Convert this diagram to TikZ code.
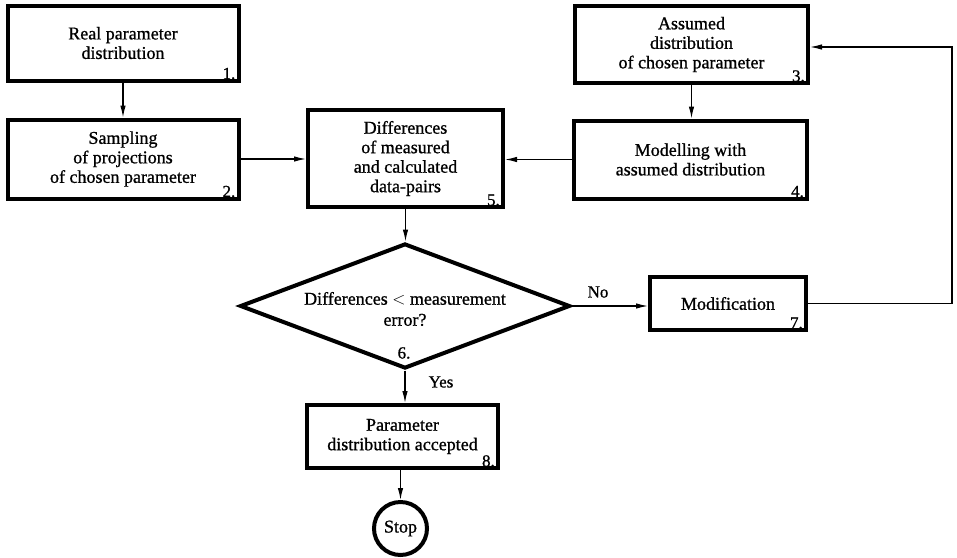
\documentclass[tikz,border=0pt]{standalone}
\usepackage{fontspec}
\setmainfont{Liberation Serif}[BoldFont=Liberation Serif, BoldFeatures={FakeBold=0.9}]
\usetikzlibrary{shapes.geometric,arrows.meta}
\begin{document}
\begin{tikzpicture}[x=1pt,y=-1pt,
  box/.style={draw, line width=4pt, rectangle, align=center, inner sep=0pt,
    font=\fontsize{18}{19.5}\selectfont\bfseries},
  arr/.style={line width=1.2pt, -{Latex[length=12pt,width=5.5pt]}},
  num/.style={anchor=south east, inner sep=0pt, font=\fontsize{17}{19}\selectfont\bfseries},
  lbl/.style={inner sep=0pt, font=\fontsize{17}{19}\selectfont\bfseries}]
\useasboundingbox[fill=white] (0,0) rectangle (957,557);

\node[box, minimum width=231, minimum height=75] (b1) at (123,43) {Real parameter\\distribution};
\node[box, minimum width=231, minimum height=79] (b2) at (123,159) {Sampling\\of projections\\of chosen parameter};
\node[box, minimum width=195, minimum height=97] (b5) at (405.5,158.5) {Differences\\of measured\\and calculated\\data-pairs};
\node[box, minimum width=233, minimum height=77] (b3) at (691.5,44.5) {Assumed\\distribution\\of chosen parameter};
\node[box, minimum width=233, minimum height=78] (b4) at (690.5,159.5) {Modelling with\\assumed distribution};
\node[box, minimum width=156, minimum height=53] (b7) at (728,303.5) {Modification};
\node[box, shape=diamond, aspect=2.64, minimum width=330, minimum height=125] (d) at (405,306) {};
\node[lbl, align=center, font=\fontsize{18}{21}\selectfont\bfseries] (dt) at (405,309) {Differences $<$ measurement\\error?};
\node[box, minimum width=191, minimum height=63] (b8) at (402.5,436.5) {Parameter\\distribution accepted};
\node[box, shape=circle, minimum size=53] (stop) at (400.5,528.5) {Stop};

\node[num] (n1) at ([shift={(-5,-3)}]b1.south east) {1.};
\node[num] (n2) at ([shift={(-5,-3)}]b2.south east) {2.};
\node[num] (n3) at ([shift={(-5,-3)}]b3.south east) {3.};
\node[num] (n4) at ([shift={(-5,-3)}]b4.south east) {4.};
\node[num] (n5) at ([shift={(-5,-3)}]b5.south east) {5.};
\node[num] (n7) at ([shift={(-5,-3)}]b7.south east) {7.};
\node[num] (n8) at ([shift={(-5,-3)}]b8.south east) {8.};
\node[lbl] (n6) at (404,353) {6.};

\draw[arr] (b1.south) -- (b2.north);
\draw[arr] (b2.east) -- (b2.east -| b5.west);
\draw[arr] (b4.west) -- (b4.west -| b5.east);
\draw[arr] (b3.south) -- (b3.south |- b4.north);
\draw[arr] (b5.south) -- (b5.south |- d.north);
\draw[arr] (d.east) -- (d.east -| b7.west);
\node[lbl] (no) at (598,292) {No};
\draw[arr] (d.south) -- (d.south |- b8.north);
\node[lbl] (yes) at (441,382) {Yes};
\draw[arr] (b8.south -| stop.north) -- (stop.north);
\coordinate (fb) at (952,47);
\draw[arr] (b7.east) -- (b7.east -| fb) -- (fb) -- (fb -| b3.east);
\end{tikzpicture}
\end{document}
